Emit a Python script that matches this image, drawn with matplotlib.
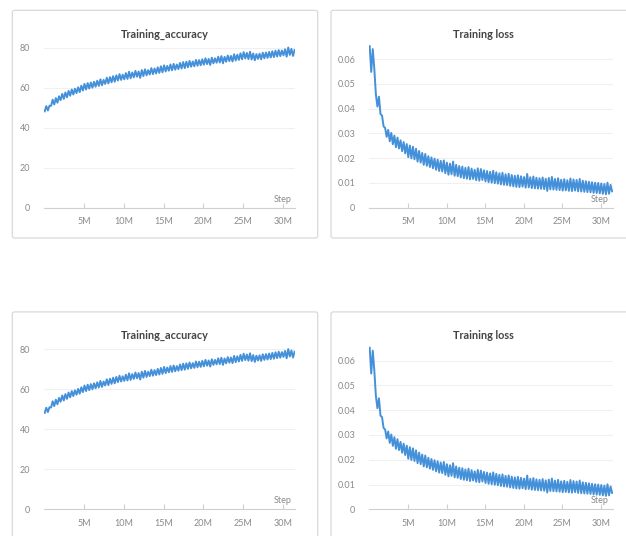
import numpy as np
import matplotlib
matplotlib.use("Agg")
import matplotlib.pyplot as plt
from matplotlib.patches import FancyBboxPatch
from matplotlib.ticker import FuncFormatter

plt.rcParams['font.family'] = ['Lato', 'DejaVu Sans']

# training accuracy, sampled every 0.2M steps from 0.05M
accuracy = [
    48.2, 50.8, 48.6, 51.0, 50.9, 54.0, 51.6, 54.8, 52.5, 55.7,
    53.8, 56.9, 54.4, 57.6, 55.2, 58.4, 56.0, 59.1, 56.6, 59.5,
    57.3, 60.2, 57.8, 61.0, 58.6, 61.9, 59.1, 62.3, 59.6, 62.6,
    60.0, 63.0, 60.5, 63.5, 60.9, 64.2, 61.2, 63.9, 61.9, 65.0,
    62.1, 65.3, 62.7, 65.8, 63.0, 66.2, 63.6, 66.8, 63.9, 66.5,
    64.2, 67.3, 64.4, 68.0, 64.7, 67.6, 65.2, 68.4, 65.5, 68.1,
    64.9, 68.8, 65.8, 69.2, 66.2, 68.8, 66.6, 69.8, 66.8, 69.6,
    67.1, 70.2, 67.4, 70.7, 67.7, 71.2, 68.1, 70.9, 68.5, 71.6,
    68.7, 71.9, 69.0, 71.6, 69.3, 72.4, 69.6, 72.8, 69.8, 73.0,
    70.2, 73.4, 70.5, 73.1, 70.7, 73.9, 71.0, 73.8, 71.2, 74.2,
    71.5, 74.7, 71.8, 74.4, 71.4, 75.0, 72.2, 74.7, 72.5, 75.5,
    72.6, 75.8, 72.2, 75.4, 73.0, 76.1, 73.3, 75.9, 73.1, 76.7,
    73.6, 76.5, 73.9, 77.2, 74.2, 77.8, 74.6, 77.4, 74.3, 78.0,
    74.1, 77.1, 73.7, 76.8, 74.4, 77.0, 74.2, 77.5, 74.7, 77.6,
    74.9, 77.9, 75.1, 78.2, 75.3, 78.5, 75.6, 78.8, 75.8, 78.6,
    76.2, 79.2, 75.5, 80.1, 76.4, 79.4, 75.9, 78.8,
]

loss = [
    0.0652, 0.0548, 0.0640, 0.0560, 0.0458, 0.0408, 0.0448, 0.0378, 0.0372, 0.0328,
    0.0322, 0.0286, 0.0314, 0.0268, 0.0302, 0.0256, 0.0291, 0.0244, 0.0283, 0.0239,
    0.0272, 0.0228, 0.0265, 0.0219, 0.0257, 0.0204, 0.0251, 0.0199, 0.0246, 0.0195,
    0.0238, 0.0186, 0.0229, 0.0182, 0.0221, 0.0173, 0.0217, 0.0169, 0.0208, 0.0164,
    0.0203, 0.0159, 0.0198, 0.0153, 0.0194, 0.0148, 0.0189, 0.0146, 0.0191, 0.0139,
    0.0182, 0.0133, 0.0178, 0.0135, 0.0186, 0.0129, 0.0173, 0.0127, 0.0168, 0.0122,
    0.0166, 0.0119, 0.0161, 0.0117, 0.0164, 0.0114, 0.0158, 0.0116, 0.0153, 0.0111,
    0.0159, 0.0109, 0.0156, 0.0112, 0.0151, 0.0106, 0.0148, 0.0103, 0.0145, 0.0101,
    0.0149, 0.0099, 0.0143, 0.0097, 0.0139, 0.0094, 0.0141, 0.0092, 0.0135, 0.0091,
    0.0137, 0.0088, 0.0132, 0.0086, 0.0129, 0.0084, 0.0131, 0.0083, 0.0127, 0.0085,
    0.0124, 0.0081, 0.0136, 0.0082, 0.0123, 0.0079, 0.0126, 0.0078, 0.0121, 0.0077,
    0.0119, 0.0076, 0.0122, 0.0075, 0.0117, 0.0068, 0.0120, 0.0074, 0.0124, 0.0073,
    0.0116, 0.0072, 0.0119, 0.0071, 0.0113, 0.0069, 0.0115, 0.0070, 0.0111, 0.0068,
    0.0118, 0.0067, 0.0114, 0.0069, 0.0112, 0.0066, 0.0116, 0.0065, 0.0109, 0.0064,
    0.0107, 0.0063, 0.0105, 0.0062, 0.0103, 0.0060, 0.0101, 0.0059, 0.0100, 0.0058,
    0.0098, 0.0056, 0.0096, 0.0054, 0.0101, 0.0056, 0.0092, 0.0066,
]

steps = 0.05e6 + 0.2e6 * np.arange(len(accuracy))

acc_ticks = [0, 20, 40, 60, 80]
loss_ticks = [0, 0.01, 0.02, 0.03, 0.04, 0.05, 0.06]
step_ticks = [5e6, 10e6, 15e6, 20e6, 25e6, 30e6]

W, H = 626, 536
BLUE = '#3a8bd8'
GREY = '#8a8a8a'

fig = plt.figure(figsize=(W / 100, H / 100), dpi=100)
fig.patch.set_facecolor('white')


def px_axes(x0, y_top, x1, y_bot):
    ax = fig.add_axes([x0 / W, 1 - y_bot / H, (x1 - x0) / W, (y_bot - y_top) / H])
    ax.set_zorder(2)
    return ax


def card(x0, y0, x1, y1):
    fig.patches.append(FancyBboxPatch(
        (x0 / W, 1 - y1 / H), (x1 - x0) / W, (y1 - y0) / H,
        boxstyle="round,pad=0,rounding_size=0.004", transform=fig.transFigure,
        facecolor='white', edgecolor='#d9d9d9', linewidth=0.9, zorder=-1))


def mfmt(v, _):
    return f"{int(v / 1e6)}M"


def panel(ax, y, ticks, ylim, title, title_xy, ylabels):
    ax.plot(steps, y, color=BLUE, linewidth=1.4, alpha=0.95, zorder=3)
    ax.set_xlim(0, 31.5e6)
    ax.set_ylim(*ylim)
    ax.set_facecolor('none')
    for s in ['top', 'right', 'left']:
        ax.spines[s].set_visible(False)
    ax.spines['bottom'].set_color('#d0d0d0')
    ax.spines['bottom'].set_linewidth(0.8)
    ax.set_yticks(ticks)
    ax.set_yticklabels(ylabels)
    ax.set_xticks(step_ticks)
    ax.xaxis.set_major_formatter(FuncFormatter(mfmt))
    ax.tick_params(axis='x', direction='in', length=3.5, color='#d0d0d0',
                   labelsize=6.5, labelcolor=GREY, pad=7)
    ax.tick_params(axis='y', length=0, labelsize=6.5, labelcolor=GREY, pad=10)
    ax.grid(axis='y', color='#f0f0f0', linewidth=0.8, zorder=0)
    ax.text(0.985, 0.025, 'Step', transform=ax.transAxes, ha='right', va='bottom',
            fontsize=6.5, color=GREY)
    fig.text(title_xy[0] / W, 1 - title_xy[1] / H, title, ha='center', va='center',
             fontsize=7.8, fontweight='bold', color='#444444', zorder=3)


acc_labels = [str(t) for t in acc_ticks]
loss_labels = ['0'] + [f"{t:.2f}" for t in loss_ticks[1:]]

for dy in [0, 301.6]:
    card(12.3, 10.3 + dy, 317.7, 238 + dy)
    card(331, 10.3 + dy, 640, 238 + dy)

    ax1 = px_axes(44.3, 207.7 + dy - 83 * 2.0, 295, 207.7 + dy)
    panel(ax1, accuracy, acc_ticks, (0, 83), 'Training_accuracy',
          (165, 34 + dy), acc_labels)

    ax2 = px_axes(369.3, 207.7 + dy - 0.066 * 2478, 612.5, 207.7 + dy)
    panel(ax2, loss, loss_ticks, (0, 0.066), 'Training loss',
          (483, 34 + dy), loss_labels)

fig.savefig('out.png', dpi=100)
